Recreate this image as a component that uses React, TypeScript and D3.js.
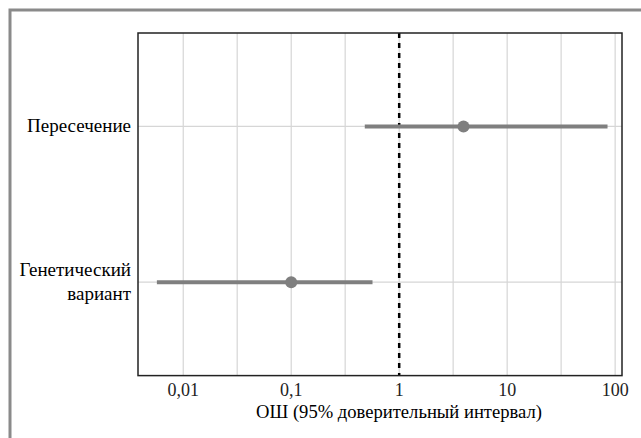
import React from "react";
import * as d3 from "d3";

const terms = ["Пересечение", "Генетический вариант"];
const termLines = [["Пересечение"], ["Генетический", "вариант"]];
const estimates = [3.94, 0.1];
const lower = [0.48, 0.0057];
const upper = [85, 0.566];
const majorTicks = [0.01, 0.1, 1, 10, 100];
const tickLabels = ["0,01", "0,1", "1", "10", "100"];
const minorTicks = [0.0316, 0.316, 3.16, 31.6];
const xTitle = "ОШ (95% доверительный интервал)";

const W = 641, H = 438;
const panel = { left: 138, right: 622, top: 33, bottom: 375.6 };
const FONT = '"Liberation Serif", "Tinos", serif';

export default function App() {
  const x = d3.scaleLog().domain([Math.pow(10, -2.419), Math.pow(10, 2.0635)]).range([panel.left, panel.right]);
  const y = d3.scalePoint<string>().domain(terms).range([panel.top, panel.bottom]).padding(0.6);
  const yPos = (i: number) => y(terms[i]) as number;
  const grid = "#d6d6d6";
  const gray = "#7f7f7f";
  return (
    <div style={{ position: "absolute", left: 0, top: 0, width: W, height: H }}>
      <svg width={W} height={H} style={{ display: "block", background: "#fff" }}>
        <rect x={10} y={10} width={W} height={H} fill="#fff" stroke="#8a8a8a" strokeWidth={3} />
        {minorTicks.map((t) => (
          <line key={"mi" + t} x1={x(t)} x2={x(t)} y1={panel.top} y2={panel.bottom} stroke={grid} strokeWidth={1.2} />
        ))}
        {majorTicks.map((t) => (
          <line key={"ma" + t} x1={x(t)} x2={x(t)} y1={panel.top} y2={panel.bottom} stroke={grid} strokeWidth={1.2} />
        ))}
        {terms.map((t, i) => (
          <line key={"h" + t} x1={panel.left} x2={panel.right} y1={yPos(i)} y2={yPos(i)} stroke={grid} strokeWidth={1.2} />
        ))}
        <line x1={x(1)} x2={x(1)} y1={panel.top} y2={panel.bottom} stroke="#000" strokeWidth={2.5} strokeDasharray="5,5" />
        {terms.map((t, i) => (
          <g key={"d" + t}>
            <line x1={x(lower[i])} x2={x(upper[i])} y1={yPos(i)} y2={yPos(i)} stroke={gray} strokeWidth={4} />
            <circle cx={x(estimates[i])} cy={yPos(i)} r={6} fill={gray} />
          </g>
        ))}
        <rect x={panel.left} y={panel.top} width={panel.right - panel.left} height={panel.bottom - panel.top} fill="none" stroke="#222" strokeWidth={1.5} />
        {majorTicks.map((t, i) => (
          <text key={"tl" + t} x={x(t)} y={396} textAnchor="middle" fill="#222" style={{ fontFamily: FONT, fontSize: 18 }}>
            {tickLabels[i]}
          </text>
        ))}
        <text x={399} y={418} textAnchor="middle" fill="#000" style={{ fontFamily: FONT, fontSize: 18.6 }}>
          {xTitle}
        </text>
        {termLines.map((lines, i) => (
          <text key={"yl" + i} x={131} y={yPos(i)} textAnchor="end" fill="#000" style={{ fontFamily: FONT, fontSize: 19 }}>
            {lines.map((l, j) => (
              <tspan key={j} x={131} dy={j === 0 ? (6 - ((lines.length - 1) * 23.5) / 2) : 23.5}>{l}</tspan>
            ))}
          </text>
        ))}
      </svg>
    </div>
  );
}
